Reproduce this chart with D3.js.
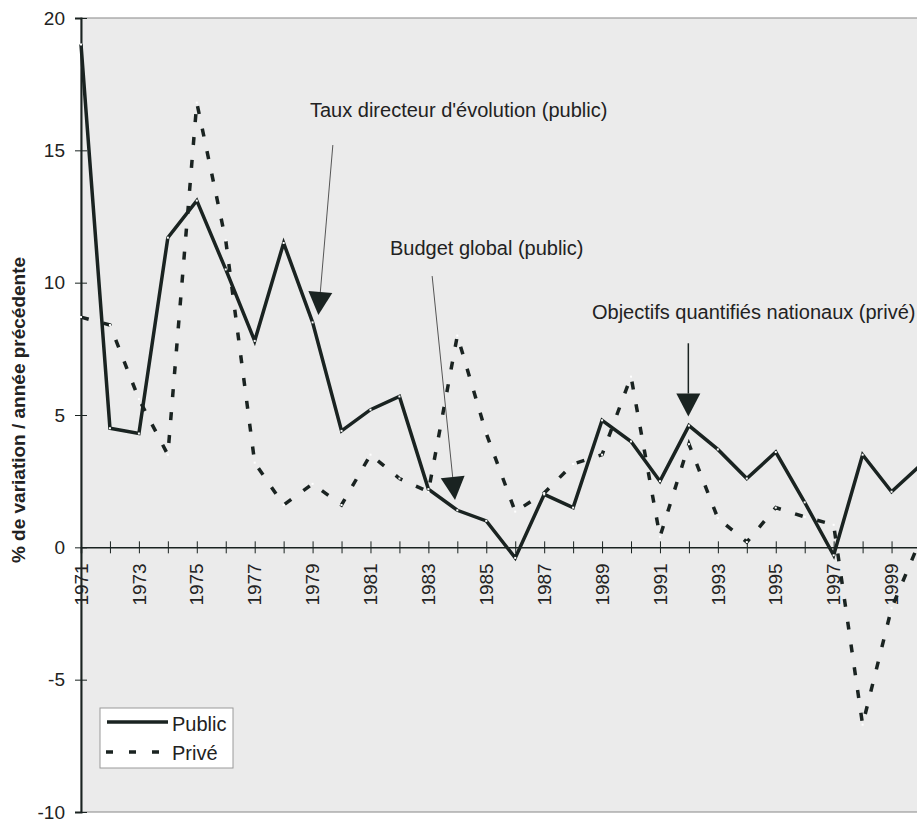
<!DOCTYPE html>
<meta charset="utf-8">
<title>Public / Privé</title>
<style>
  body { margin: 0; background: #fff; }
  text { font-family: "Liberation Sans", Arial, sans-serif; fill: #222; }
</style>
<div id="viz"></div>
<script src="https://cdnjs.cloudflare.com/ajax/libs/d3/7.8.5/d3.min.js"></script>
<script>

var years = d3.range(1971, 2001);
var publicVals = [19.0, 4.5, 4.3, 11.7, 13.1, 10.5, 7.8, 11.5, 8.5, 4.4,
                  5.2, 5.7, 2.2, 1.4, 1.0, -0.4, 2.0, 1.5, 4.8, 4.0,
                  2.5, 4.6, 3.7, 2.6, 3.6, 1.7, -0.3, 3.5, 2.1, 3.1];
var priveVals = [8.7, 8.4, 5.6, 3.5, 16.8, 11.6, 3.2, 1.6, 2.4, 1.6,
                 3.5, 2.6, 2.1, 8.0, 4.3, 1.35, 2.05, 3.15, 3.5, 6.45,
                 0.4, 3.9, 1.1, 0.2, 1.5, 1.15, 0.85, -6.7, -2.3, 0.3];
var yTicks = [-10, -5, 0, 5, 10, 15, 20];
var yearLabels = d3.range(1971, 2001, 2);

// annotations: [text, text x, text baseline, arrow from [year, value], arrow tip [year, value]]
var notes = [
  ["Taux directeur d'évolution (public)", 310, 117, [1979.7, 15.2], [1979.2, 8.78], "#555", 1],
  ["Budget global (public)", 390, 255, [1983.13, 10.25], [1983.92, 1.79], "#555", 1],
  ["Objectifs quantifiés nationaux (privé)", 592, 319, [1991.98, 7.71], [1991.98, 4.94], "#1a2321", 1.5]
];

var width = 917, height = 820;
var ink = "#1a2321";

var svg = d3.select("#viz").append("svg")
    .attr("width", width)
    .attr("height", height);

var x = d3.scaleLinear().domain([1971, 2000]).range([81, 920.5]);
var y = d3.scaleLinear().domain([-10, 20]).range([812, 18]);

// plot background
svg.append("rect")
  .attr("x", x(1971)).attr("y", y(20))
  .attr("width", width - x(1971) + 5).attr("height", y(-10) - y(20))
  .attr("fill", "#ebebeb").attr("stroke", "#9a9a9a").attr("stroke-width", 1.2);

// y axis
var yAxis = d3.axisLeft(y).tickValues(yTicks).tickSize(6).tickPadding(10)
  .tickFormat(function(d) { return String(d); });
var gy = svg.append("g").attr("transform", "translate(" + x(1971) + ",0)").call(yAxis);
gy.select(".domain").attr("stroke", ink).attr("stroke-width", 2);
gy.selectAll(".tick line").attr("stroke", ink).attr("x2", -6).attr("x1", 6);
gy.selectAll(".tick text").attr("font-size", 19).attr("fill", "#222")
  .attr("font-family", "Liberation Sans, Arial, sans-serif");

// x axis on the zero line
var xAxis = d3.axisBottom(x).tickValues(years).tickSize(6).tickFormat("");
var gx = svg.append("g").attr("transform", "translate(0," + y(0) + ")").call(xAxis);
gx.select(".domain").attr("stroke", ink).attr("stroke-width", 1.5);
gx.selectAll(".tick line").attr("stroke", ink).attr("y1", -6).attr("y2", 6);

svg.append("g").selectAll("text").data(yearLabels).join("text")
  .attr("transform", function(d) { return "translate(" + x(d) + "," + (y(0) + 16) + ") rotate(-90)"; })
  .attr("text-anchor", "end")
  .attr("dy", "0.35em")
  .attr("font-size", 19)
  .text(function(d) { return d; });

// y title
svg.append("text")
  .attr("transform", "translate(25,410) rotate(-90)")
  .attr("text-anchor", "middle")
  .attr("font-size", 19)
  .attr("font-weight", "bold")
  .text("% de variation / année précédente");

// lines
var line = d3.line()
  .x(function(d, i) { return x(years[i]); })
  .y(function(d) { return y(d); });

svg.append("path").datum(priveVals)
  .attr("d", line).attr("fill", "none")
  .attr("stroke", ink).attr("stroke-width", 3.5)
  .attr("stroke-dasharray", "8,15");

svg.append("path").datum(publicVals)
  .attr("d", line).attr("fill", "none")
  .attr("stroke", ink).attr("stroke-width", 3.5)
  .attr("stroke-linejoin", "miter");

[publicVals, priveVals].forEach(function(vals) {
  svg.append("g").selectAll("rect").data(vals).join("rect")
    .attr("x", function(d, i) { return x(years[i]) - 1; })
    .attr("y", function(d) { return y(d) - 1; })
    .attr("width", 2).attr("height", 2)
    .attr("fill", "#fff");
});

// annotations
notes.forEach(function(n) {
  svg.append("text").attr("x", n[1]).attr("y", n[2]).attr("font-size", 20).text(n[0]);
  var x0 = x(n[3][0]), y0 = y(n[3][1]), x1 = x(n[4][0]), y1 = y(n[4][1]);
  var ang = Math.atan2(y1 - y0, x1 - x0);
  var hl = 23, hw = 12;
  var bx = x1 - hl * Math.cos(ang), by = y1 - hl * Math.sin(ang);
  svg.append("line")
    .attr("x1", x0).attr("y1", y0).attr("x2", bx).attr("y2", by)
    .attr("stroke", n[5]).attr("stroke-width", n[6]);
  var px = -Math.sin(ang) * hw, py = Math.cos(ang) * hw;
  svg.append("path")
    .attr("d", "M" + x1 + "," + y1 + "L" + (bx + px) + "," + (by + py) + "L" + (bx - px) + "," + (by - py) + "Z")
    .attr("fill", ink);
});

// legend
var lg = svg.append("g");
lg.append("rect").attr("x", 100).attr("y", 708).attr("width", 133).attr("height", 60)
  .attr("fill", "#fff").attr("stroke", "#9a9a9a");
lg.append("line").attr("x1", 107).attr("x2", 168).attr("y1", 722).attr("y2", 722)
  .attr("stroke", ink).attr("stroke-width", 3.5);
lg.append("line").attr("x1", 106).attr("x2", 168).attr("y1", 752).attr("y2", 752)
  .attr("stroke", ink).attr("stroke-width", 3.5).attr("stroke-dasharray", "7,16");
lg.append("text").attr("x", 172).attr("y", 731).attr("font-size", 20).text("Public");
lg.append("text").attr("x", 172).attr("y", 760).attr("font-size", 20).text("Privé");

</script>
